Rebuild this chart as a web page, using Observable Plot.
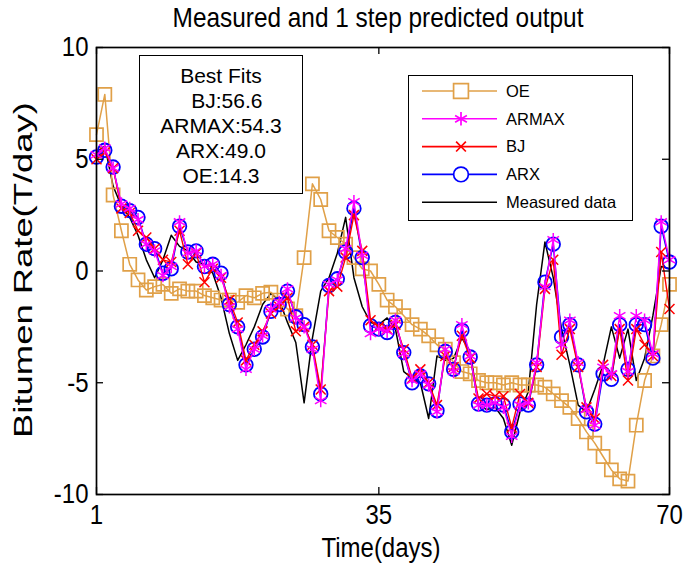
<!DOCTYPE html>
<html><head><meta charset="utf-8">
<script src="https://cdn.jsdelivr.net/npm/d3@7"></script>
<script src="https://cdn.jsdelivr.net/npm/@observablehq/plot@0.6"></script>
<style>
body{margin:0;background:#fff;}
#wrap{position:relative;width:684px;height:567px;font-family:"Liberation Sans",Arial,sans-serif;color:#000;overflow:hidden;}
.t{position:absolute;white-space:pre;}
</style></head><body><div id="wrap"></div>
<script>
const days=[1,2,3,4,5,6,7,8,9,10,11,12,13,14,15,16,17,18,19,20,21,22,23,24,25,26,27,28,29,30,31,32,33,34,35,36,37,38,39,40,41,42,43,44,45,46,47,48,49,50,51,52,53,54,55,56,57,58,59,60,61,62,63,64,65,66,67,68,69,70];
const measured=[5.3,5.6,3.8,2.9,2.4,1.6,0.5,-0.3,0.5,1.6,1.1,0.9,0.4,0.3,-0.1,-1.2,-2.8,-4.0,-3.3,-2.5,-1.5,-1.0,-1.3,-2.3,-3.2,-5.9,-3.0,-0.9,-0.3,0.8,2.4,-0.3,-1.6,-2.3,-2.4,-2.1,-2.6,-4.5,-4.8,-5.0,-6.6,-3.8,-4.0,-3.9,-3.0,-3.6,-6.0,-6.2,-6.1,-6.6,-7.8,-6.3,-5.4,-1.5,1.3,-0.3,-2.6,-4.2,-6.0,-6.3,-5.3,-4.2,-2.5,-3.9,-2.6,-4.9,-3.9,-2.0,0.2,0.1];
const oe=[6.1,7.9,3.4,1.8,0.3,-0.4,-0.85,-0.7,-0.6,-1.0,-0.8,-0.9,-0.9,-1.1,-1.2,-1.3,-1.3,-1.4,-1.1,-1.2,-1.0,-0.95,-1.3,-1.7,-2.0,0.6,3.9,3.2,1.8,1.5,1.2,0.6,0.1,0.0,-0.6,-1.3,-1.6,-2.0,-2.4,-2.6,-2.9,-3.3,-3.5,-4.1,-4.5,-4.6,-4.9,-5.0,-5.0,-5.1,-5.0,-5.1,-5.1,-5.1,-5.2,-5.5,-5.8,-6.1,-6.6,-7.2,-7.7,-8.3,-8.9,-9.3,-9.4,-6.9,-4.9,-3.8,-2.4,-0.6];
const armax=[5.2,5.5,4.6,3.0,2.8,2.3,1.2,0.9,-0.2,0.2,2.2,0.8,0.9,0.2,0.3,-0.2,-1.6,-2.6,-4.4,-3.5,-2.9,-1.7,-1.4,-0.8,-2.1,-2.5,-3.5,-5.8,-0.6,-0.4,1.0,3.1,0.7,-2.8,-2.6,-2.7,-2.2,-3.7,-4.9,-4.6,-5.1,-6.3,-3.5,-4.5,-2.4,-3.8,-6.0,-6.0,-5.9,-6.1,-7.4,-6.0,-5.9,-4.1,-0.7,1.4,-3.3,-2.2,-4.1,-6.2,-6.9,-4.3,-4.6,-2.0,-4.5,-2.0,-2.2,-3.7,2.2,0.5];
const bj=[5.0,5.3,4.6,2.8,2.6,1.8,1.5,1.0,0.5,0.4,1.8,0.3,0.8,-0.5,0.1,-0.3,-1.3,-2.3,-4.0,-3.3,-2.7,-1.9,-1.6,-1.2,-2.7,-2.5,-3.3,-5.3,-0.9,-0.7,0.6,2.5,0.9,-2.2,-2.5,-2.6,-2.4,-3.5,-4.8,-4.4,-5.0,-6.0,-3.8,-4.3,-2.9,-3.9,-5.7,-5.5,-5.6,-5.6,-7.0,-5.5,-5.9,-4.3,-0.8,0.5,-3.75,-2.6,-4.3,-6.1,-6.6,-4.2,-4.7,-2.6,-4.9,-2.6,-3.3,-3.8,0.85,-1.7];
const arx=[5.1,5.4,4.65,2.9,2.7,2.4,1.2,1.0,-0.1,0.1,2.0,0.85,0.9,0.2,0.3,-0.1,-1.5,-2.5,-4.2,-3.5,-2.95,-1.8,-1.5,-0.9,-2.05,-2.4,-3.4,-5.5,-0.65,-0.35,0.85,2.8,0.6,-2.45,-2.6,-2.75,-2.3,-3.65,-5.0,-4.7,-5.05,-6.25,-3.6,-4.4,-2.65,-3.85,-5.95,-6.0,-5.95,-6.0,-7.2,-5.95,-6.0,-4.2,-0.5,1.2,-2.95,-2.4,-4.2,-6.3,-6.85,-4.6,-4.85,-2.4,-4.4,-2.4,-2.4,-3.9,2.0,0.4];
const xTicks=[1,35,70];
const yTicks=[-10,-5,0,5,10];
const titleText="Measured and 1 step predicted output";
const xLabel="Time(days)";
const yLabel="Bitumen Rate(T/day)";
const fitHeader="Best Fits";
const fitNames=["  BJ","ARMAX","ARX","OE"];
const fitValues=[56.6,54.3,49.0,14.3];
const legendNames=["OE","ARMAX","BJ","ARX","Measured data"];

const C={oe:"#E0A048",armax:"#FF00FF",bj:"#FF0000",arx:"#0000FF",meas:"#000000"};
const rows=vals=>days.map((d,i)=>({day:d,value:vals[i]}));
const W=684,H=567,mL=96,mR=15,mT=47,mB=73,tk=7;
const fw=W-mL-mR, fh=H-mT-mB;
const font='"Liberation Sans",Arial,sans-serif';
const XY={x:"day",y:"value"};

const plot=Plot.plot({
  width:W,height:H,marginLeft:mL,marginRight:mR,marginTop:mT,marginBottom:mB,
  style:{fontFamily:font,fontSize:"24px",background:"transparent",color:"black",overflow:"visible"},
  x:{domain:[1,70]},
  y:{domain:[-10,10]},
  marks:[
    Plot.line(rows(measured),{...XY,stroke:C.meas,strokeWidth:1.5}),
    Plot.line(rows(oe),{...XY,stroke:C.oe,strokeWidth:1.5}),
    Plot.dot(rows(oe),{...XY,symbol:"square",r:7.4,stroke:C.oe,fill:"none",strokeWidth:1.7}),
    Plot.line(rows(arx),{...XY,stroke:C.arx,strokeWidth:1.5}),
    Plot.dot(rows(arx),{...XY,symbol:"circle",r:6.8,stroke:C.arx,fill:"none",strokeWidth:1.8}),
    Plot.line(rows(bj),{...XY,stroke:C.bj,strokeWidth:1.4}),
    Plot.dot(rows(bj),{...XY,symbol:"times",r:4.6,stroke:C.bj,strokeWidth:1.5}),
    Plot.line(rows(armax),{...XY,stroke:C.armax,strokeWidth:1.4}),
    Plot.dot(rows(armax),{...XY,symbol:"asterisk",r:6.3,stroke:C.armax,strokeWidth:1.5}),
    Plot.tickY(yTicks,{y:d=>d,insetRight:fw-tk,stroke:"black",strokeWidth:1.3}),
    Plot.tickY(yTicks,{y:d=>d,insetLeft:fw-tk,stroke:"black",strokeWidth:1.3}),
    Plot.tickX(xTicks,{x:d=>d,insetTop:fh-tk,stroke:"black",strokeWidth:1.3}),
    Plot.tickX(xTicks,{x:d=>d,insetBottom:fh-tk,stroke:"black",strokeWidth:1.3}),
    Plot.frame({stroke:"black",strokeWidth:1.7}),
    Plot.axisX(xTicks,{tickSize:0,tickPadding:10,label:null,fontSize:24,tickFormat:d=>String(d)}),
    Plot.axisY(yTicks,{tickSize:0,tickPadding:8,label:null,fontSize:24,tickFormat:d=>String(d)})
  ]
});
// slight vertical stretch of tick labels, as in the reference
plot.querySelectorAll("text").forEach(t=>{
  const tr=t.getAttribute("transform")||"";
  t.setAttribute("transform",tr+" scale(1,1.15)");
});
const wrap=document.getElementById("wrap");
plot.style.position="absolute";plot.style.left="0";plot.style.top="0";
wrap.appendChild(plot);

function addText(txt,left,top,size,transform){
  const d=document.createElement("div");
  d.className="t";d.textContent=txt;
  d.style.left=left+"px";d.style.top=top+"px";d.style.fontSize=size+"px";
  d.style.lineHeight="1";d.style.transform=transform;
  wrap.appendChild(d);return d;
}
addText(titleText,378,18,24.4,"translate(-50%,-50%) scaleY(1.15)");
addText(xLabel,381,548,24,"translate(-50%,-50%) scaleY(1.15)");
addText(yLabel,23,270,26,"translate(-50%,-50%) rotate(-90deg) scaleX(1.4)");

// Best fits box
const box=document.createElement("div");
Object.assign(box.style,{position:"absolute",left:"139px",top:"55px",width:"164px",height:"139px",border:"1.6px solid #000",background:"#fff",boxSizing:"border-box",textAlign:"center",fontSize:"21px",lineHeight:"25px",paddingTop:"7px",whiteSpace:"pre"});
[fitHeader,...fitNames.map((n,i)=>`${n}:${fitValues[i].toFixed(1)}`)].forEach(s=>{
  const l=document.createElement("div");l.textContent=s;box.appendChild(l);
});
wrap.appendChild(box);

// Legend
const lg=document.createElement("div");
Object.assign(lg.style,{position:"absolute",left:"408px",top:"75px",width:"225px",height:"146px",border:"1.6px solid #000",background:"#fff",boxSizing:"border-box"});
const ns="http://www.w3.org/2000/svg";
const ls=document.createElementNS(ns,"svg");
ls.setAttribute("width","225");ls.setAttribute("height","146");
ls.style.position="absolute";ls.style.left="-1.6px";ls.style.top="-1.6px";
const legColors=[C.oe,C.armax,C.bj,C.arx,C.meas];
const legSym=["square","asterisk","times","circle",null];
const sym={square:d3.symbolSquare,asterisk:d3.symbolAsterisk,times:d3.symbolTimes,circle:d3.symbolCircle};
const symSize={square:220,asterisk:130,times:64,circle:170};
legendNames.forEach((name,i)=>{
  const y=17+i*27.8;
  const g=document.createElementNS(ns,"g");
  const ln=document.createElementNS(ns,"line");
  ln.setAttribute("x1",15);ln.setAttribute("x2",90);ln.setAttribute("y1",y);ln.setAttribute("y2",y);
  ln.setAttribute("stroke",legColors[i]);ln.setAttribute("stroke-width",1.6);g.appendChild(ln);
  if(legSym[i]){
    const p=document.createElementNS(ns,"path");
    p.setAttribute("d",d3.symbol(sym[legSym[i]],symSize[legSym[i]])());
    p.setAttribute("transform",`translate(54,${y})`);
    p.setAttribute("fill",legSym[i]==="square"||legSym[i]==="circle"?"#fff":"none");
    p.setAttribute("stroke",legColors[i]);p.setAttribute("stroke-width",1.7);g.appendChild(p);
  }
  const t=document.createElementNS(ns,"text");
  t.setAttribute("x",99);t.setAttribute("y",y);t.setAttribute("dy","0.35em");
  t.setAttribute("font-size","16.5");t.setAttribute("font-family",font);t.textContent=name;
  g.appendChild(t);ls.appendChild(g);
});
lg.appendChild(ls);
wrap.appendChild(lg);
</script></body></html>
